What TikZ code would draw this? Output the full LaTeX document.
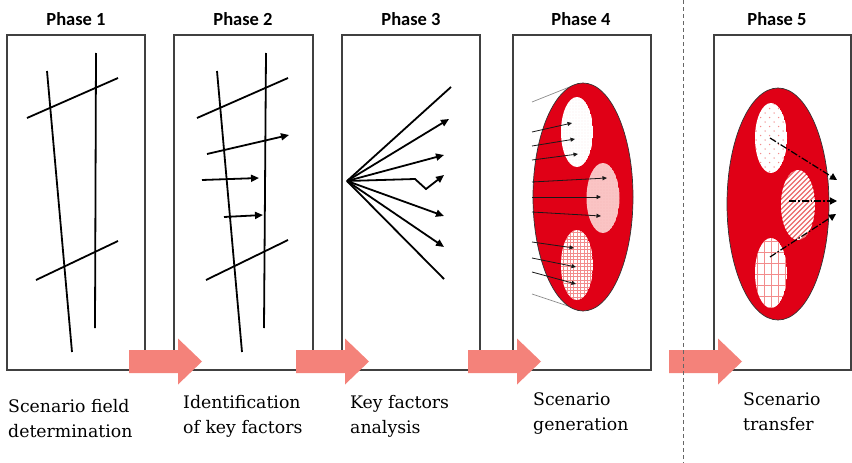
\documentclass[tikz,border=0pt]{standalone}
\usepackage{fontspec}
\setmainfont{DejaVu Serif}
\newfontfamily\headfont{Carlito}
\usetikzlibrary{arrows.meta}
\definecolor{bigred}{RGB}{224,0,22}
\definecolor{salmon}{RGB}{244,130,122}
\definecolor{midpink}{RGB}{250,196,196}
\definecolor{gridpink}{RGB}{242,140,140}
\definecolor{dotpink}{RGB}{244,170,170}
\definecolor{stripebg}{RGB}{236,108,108}
\begin{document}
\begin{tikzpicture}[x=1pt,y=-1pt,
  box/.style={draw=black!75, line width=1.1pt, minimum width=#1, minimum height=335pt, inner sep=0pt},
  head/.style={font=\headfont\bfseries\fontsize{18.5}{22}\selectfont, inner sep=0pt, anchor=base},
  lab/.style={font=\fontsize{17.3}{21}\selectfont, inner sep=0pt, anchor=base west},
  stroke/.style={line width=1.8pt, black},
  sarr/.style={line width=1.8pt, black, -{Triangle[length=8pt,width=7pt]}},
  thinarr/.style={line width=0.8pt, black!90, -{Triangle[length=4.5pt,width=4pt]}},
  greyline/.style={line width=0.7pt, black!45},
  dd/.style={line width=1.2pt, black, dash pattern=on 7pt off 2pt on 1.5pt off 2pt, -{Triangle[length=7pt,width=7pt]}},
  bigell/.style={fill=bigred, draw=black!80, line width=0.7pt}]
\useasboundingbox (0,0) rectangle (852,463);

% boxes
\node[box=138pt] (b1) at (76,202.5) {};
\node[box=139pt] (b2) at (243.5,202.5) {};
\node[box=138pt] (b3) at (411,202.5) {};
\node[box=138pt] (b4) at (582,202.5) {};
\node[box=137pt] (b5) at (782.5,202.5) {};

% phase titles
\node[head] (p1) at (76,25) {Phase 1};
\node[head] (p2) at (243,25) {Phase 2};
\node[head] (p3) at (411,25) {Phase 3};
\node[head] (p4) at (581,25) {Phase 4};
\node[head] (p5) at (777,25) {Phase 5};

% Phase 1
\draw[stroke] (47,71) -- (72,352);
\draw[stroke] (96,53) -- (95,328);
\draw[stroke] (27,118) -- (118,78);
\draw[stroke] (36,280) -- (118,241);

% Phase 2
\draw[stroke] (217,71) -- (242,352);
\draw[stroke] (266,53) -- (264,328);
\draw[stroke] (197,118) -- (288,78);
\draw[stroke] (206,280) -- (288,240);
\draw[sarr] (207,154) -- (289,135);
\draw[sarr] (202,180) -- (259,178);
\draw[sarr] (224,217) -- (263,215);

% Phase 3
\coordinate (o3) at (347,181);
\draw[stroke] (o3) -- (451,87);
\draw[sarr] (o3) -- (449,119);
\draw[sarr] (o3) -- (444,155);
\draw[sarr] (o3) -- (415,179) -- (426,189) -- (444,175);
\draw[sarr] (o3) -- (444,216);
\draw[sarr] (o3) -- (444,247);
\draw[stroke] (o3) -- (444,279);

% Phase 4
\draw[greyline] (532,102) -- (572,86);
\draw[greyline] (532,294) -- (580,310);
\path[bigell] (583,197) ellipse [x radius=50pt, y radius=114pt];
\begin{scope}
  \clip (577,132) ellipse [x radius=16pt, y radius=35pt];
  \fill[white] (577,132) ellipse [x radius=16pt, y radius=35pt];
  \foreach \x in {561,564,...,594} \foreach \y in {97,100,...,168} \fill[dotpink!60] (\x,\y) circle [radius=0.45pt];
\end{scope}
\begin{scope}
  \clip (603,198) ellipse [x radius=16.5pt, y radius=35pt];
  \fill[midpink] (603,198) ellipse [x radius=16.5pt, y radius=35pt];
  \foreach \x in {586,589,...,621} \foreach \y in {163,166,...,234} \fill[dotpink] (\x,\y) circle [radius=0.45pt];
\end{scope}
\begin{scope}
  \clip (577,265) ellipse [x radius=16pt, y radius=35pt];
  \fill[white] (577,265) ellipse [x radius=16pt, y radius=35pt];
  \foreach \x in {560,563.4,...,595} \draw[gridpink, line width=0.45pt] (\x,228) -- (\x,302);
  \foreach \y in {229,232.4,...,302} \draw[gridpink, line width=0.45pt] (559,\y) -- (596,\y);
\end{scope}
\draw[thinarr] (532,132) -- (572,123);
\draw[thinarr] (532,146) -- (575,139);
\draw[thinarr] (532,160) -- (578,154);
\draw[thinarr] (532,182) -- (607,178);
\draw[thinarr] (532,197) -- (601,197);
\draw[thinarr] (532,212) -- (601,216);
\draw[thinarr] (532,242) -- (574,248);
\draw[thinarr] (532,258) -- (576,267);
\draw[thinarr] (532,272) -- (576,284);

% Phase 5
\path[bigell] (778,204) ellipse [x radius=51pt, y radius=116pt];
\begin{scope}
  \clip (771,138) ellipse [x radius=16pt, y radius=35pt];
  \fill[white] (771,138) ellipse [x radius=16pt, y radius=35pt];
  \foreach \x in {756,765,...,790} \foreach \y in {104,113,...,176} {
    \fill[gridpink] (\x,\y) circle [radius=0.75pt];
    \fill[gridpink] (\x+4.5,\y+4.5) circle [radius=0.75pt];}
\end{scope}
\begin{scope}
  \clip (798,205) ellipse [x radius=17pt, y radius=35pt];
  \fill[stripebg] (798,205) ellipse [x radius=17pt, y radius=35pt];
  \foreach \k in {-60,-55,...,60} \draw[white, line width=1.9pt] (798+\k-45,250) -- (798+\k+45,160);
\end{scope}
\begin{scope}
  \clip (771,273) ellipse [x radius=16pt, y radius=35pt];
  \fill[white] (771,273) ellipse [x radius=16pt, y radius=35pt];
  \foreach \x in {757,764,...,787} \draw[gridpink, line width=0.9pt] (\x,236) -- (\x,310);
  \foreach \y in {241,252,...,310} \draw[gridpink, line width=0.9pt] (753,\y) -- (789,\y);
\end{scope}
\draw[dd] (770,138) -- (837,180);
\draw[dd] (789,201) -- (837,201);
\draw[dd] (770,257) -- (836,214);

% process arrows
\foreach \x in {129,296,468,669}
  \fill[salmon] (\x,350) -- (\x+49,350) -- (\x+49,338.5) -- (\x+73,361.5)
    -- (\x+49,384.5) -- (\x+49,373) -- (\x,373) -- cycle;

% separator
\draw[black!60, line width=1pt, dash pattern=on 4pt off 3pt] (683,0) -- (683,463);

% bottom labels
\node[lab] (t1a) at (8,412) {Scenario field};
\node[lab] (t1b) at (8,437) {determination};
\node[lab] (t2a) at (183,408) {Identification};
\node[lab] (t2b) at (183,433) {of key factors};
\node[lab] (t3a) at (350,408) {Key factors};
\node[lab] (t3b) at (350,433) {analysis};
\node[lab] (t4a) at (533,405) {Scenario};
\node[lab] (t4b) at (533,430) {generation};
\node[lab] (t5a) at (743,405) {Scenario};
\node[lab] (t5b) at (743,430) {transfer};
\end{tikzpicture}
\end{document}
